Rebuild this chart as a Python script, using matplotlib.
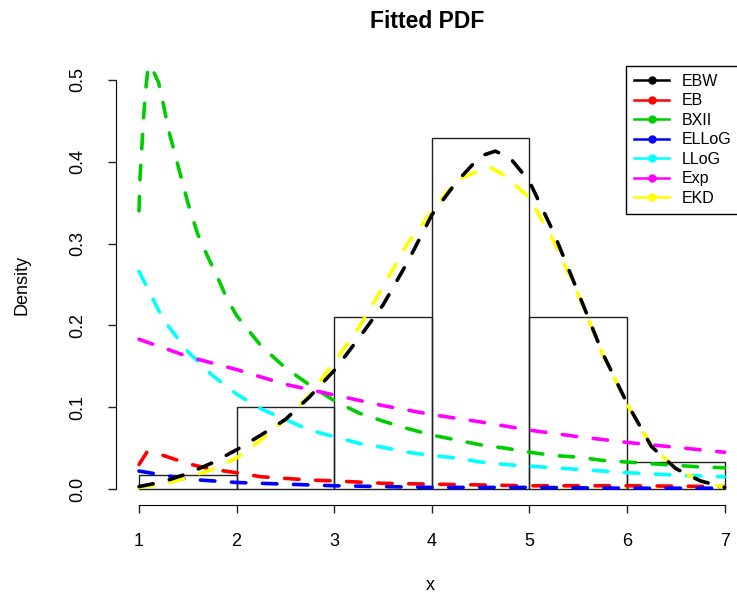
import matplotlib
matplotlib.use("Agg")
import matplotlib.pyplot as plt
from matplotlib.lines import Line2D

plt.rcParams['font.family'] = ['Liberation Sans', 'DejaVu Sans']

# histogram of the sample (density scale, unit-width bins)
bin_left = [1, 2, 3, 4, 5, 6]
bin_density = [0.0168, 0.1008, 0.2100, 0.4286, 0.2100, 0.0336]

# fitted densities
x_ebw = [1.0, 1.25, 1.5, 1.75, 2.0, 2.25, 2.5, 2.75, 3.0, 3.25, 3.5, 3.75, 4.0,
         4.25, 4.5, 4.65, 4.8, 5.0, 5.25, 5.5, 5.75, 6.0, 6.25, 6.5, 6.75, 7.0]
y_ebw = [0.003, 0.009, 0.019, 0.032, 0.048, 0.066, 0.085, 0.113, 0.145, 0.184,
         0.225, 0.277, 0.335, 0.375, 0.407, 0.413, 0.405, 0.376, 0.313, 0.240,
         0.166, 0.105, 0.052, 0.025, 0.010, 0.002]

x_ekd = [1.0, 1.25, 1.5, 1.75, 2.0, 2.25, 2.5, 2.75, 3.0, 3.25, 3.5, 3.75, 4.0,
         4.25, 4.5, 4.6, 4.75, 5.0, 5.25, 5.5, 5.75, 6.0, 6.25, 6.5, 6.75, 7.0]
y_ekd = [0.002, 0.006, 0.014, 0.024, 0.038, 0.060, 0.085, 0.115, 0.155, 0.197,
         0.247, 0.300, 0.339, 0.377, 0.390, 0.393, 0.383, 0.356, 0.303, 0.238,
         0.165, 0.104, 0.053, 0.025, 0.010, 0.002]

x_bxii = [1.0, 1.01, 1.03, 1.05, 1.07, 1.09, 1.11, 1.15, 1.2, 1.25, 1.3, 1.4,
          1.5, 1.6, 1.7, 1.8, 1.9, 2.0, 2.25, 2.5, 2.75, 3.0, 3.25, 3.5, 3.75,
          4.0, 4.25, 4.5, 4.75, 5.0, 5.25, 5.5, 5.75, 6.0, 6.25, 6.5, 6.75, 7.0]
y_bxii = [0.340, 0.380, 0.420, 0.460, 0.490, 0.512, 0.518, 0.510, 0.497, 0.470,
          0.440, 0.395, 0.350, 0.312, 0.285, 0.260, 0.233, 0.212, 0.175, 0.148,
          0.127, 0.108, 0.093, 0.083, 0.074, 0.066, 0.060, 0.054, 0.050, 0.045,
          0.041, 0.039, 0.035, 0.033, 0.031, 0.029, 0.027, 0.026]

x_llog = [1.0, 1.25, 1.5, 1.75, 2.0, 2.25, 2.5, 2.75, 3.0, 3.25, 3.5, 3.75,
          4.0, 4.25, 4.5, 4.75, 5.0, 5.5, 6.0, 6.5, 7.0]
y_llog = [0.266, 0.207, 0.168, 0.139, 0.116, 0.098, 0.085, 0.072, 0.064, 0.056,
          0.051, 0.045, 0.041, 0.038, 0.033, 0.030, 0.028, 0.024, 0.020, 0.017,
          0.015]

x_exp = [1.0, 1.5, 2.0, 2.5, 3.0, 3.5, 4.0, 4.5, 5.0, 5.5, 6.0, 6.5, 7.0]
y_exp = [0.183, 0.162, 0.146, 0.128, 0.115, 0.102, 0.091, 0.082, 0.072, 0.064,
         0.057, 0.051, 0.045]

x_eb = [1.0, 1.08, 1.25, 1.5, 1.75, 2.0, 2.25, 2.5, 2.75, 3.0, 3.5, 4.0, 4.5,
        5.0, 6.0, 7.0]
y_eb = [0.030, 0.045, 0.041, 0.031, 0.024, 0.020, 0.015, 0.013, 0.011, 0.010,
        0.007, 0.006, 0.005, 0.004, 0.004, 0.003]

x_ellog = [1.0, 1.25, 1.5, 1.75, 2.0, 2.5, 3.0, 3.5, 4.0, 5.0, 6.0, 7.0]
y_ellog = [0.022, 0.017, 0.012, 0.010, 0.008, 0.006, 0.004, 0.003, 0.002, 0.002,
           0.001, 0.001]

labels = ['EBW', 'EB', 'BXII', 'ELLoG', 'LLoG', 'Exp', 'EKD']
colors = ['black', 'red', '#00CD00', 'blue', 'cyan', 'magenta', 'yellow']

fig = plt.figure(figsize=(7.37, 5.92), dpi=100)
W, H = 737, 592
ax = fig.add_axes([115.6 / W, (H - 505.4) / H, (W - 115.6) / W, (505.4 - 63.6) / H])

ax.bar(bin_left, bin_density, width=1, align='edge', fill=False,
       edgecolor='#222222', linewidth=1.0, zorder=1)

curves = [(x_ebw, y_ebw), (x_eb, y_eb), (x_bxii, y_bxii), (x_ellog, y_ellog),
          (x_llog, y_llog), (x_exp, y_exp), (x_ekd, y_ekd)]
dash = (0, (4.0, 4.6))
for i, ((xs, ys), c) in enumerate(zip(curves, colors)):
    z = 10 if i == 0 else 3
    ax.plot(xs, ys, color=c, lw=2.6, linestyle=dash, dash_capstyle='round',
            zorder=z)

ax.set_xlim(0.76, 7.127)
ax.set_ylim(-0.02, 0.52)

for s in ['top', 'right']:
    ax.spines[s].set_visible(False)
ax.spines['left'].set_bounds(0, 0.5)
ax.spines['bottom'].set_bounds(1, 7)

ax.set_xticks(range(1, 8))
ax.set_yticks([0, 0.1, 0.2, 0.3, 0.4, 0.5])
ax.set_yticklabels(['0.0', '0.1', '0.2', '0.3', '0.4', '0.5'],
                   rotation=90, va='center')
ax.tick_params(length=6, width=1, labelsize=13, color='#222222')
ax.tick_params(axis='x', pad=14)
ax.tick_params(axis='y', pad=15)

fig.text(427 / W, 1 - 21 / H, 'Fitted PDF', ha='center', va='center',
         fontsize=16.5, fontweight='bold')
fig.text(430 / W, 1 - 585 / H, 'x', ha='center', va='center', fontsize=13)
fig.text(22 / W, 1 - 285 / H, 'Density', ha='center', va='center',
         rotation=90, fontsize=13)

handles = [Line2D([], [], color=c, lw=1.8, marker='o', markersize=5) for c in colors]
leg = ax.legend(handles, labels, loc='upper left',
                bbox_to_anchor=(626 / W, 1 - 66 / H), bbox_transform=fig.transFigure,
                fancybox=False, edgecolor='black', framealpha=1, fontsize=11.5,
                handlelength=2.2, handletextpad=0.8, labelspacing=0.28,
                borderpad=0.5, borderaxespad=0)
leg.get_frame().set_linewidth(1.0)
leg.set_zorder(20)

fig.savefig('out.png', dpi=100)
